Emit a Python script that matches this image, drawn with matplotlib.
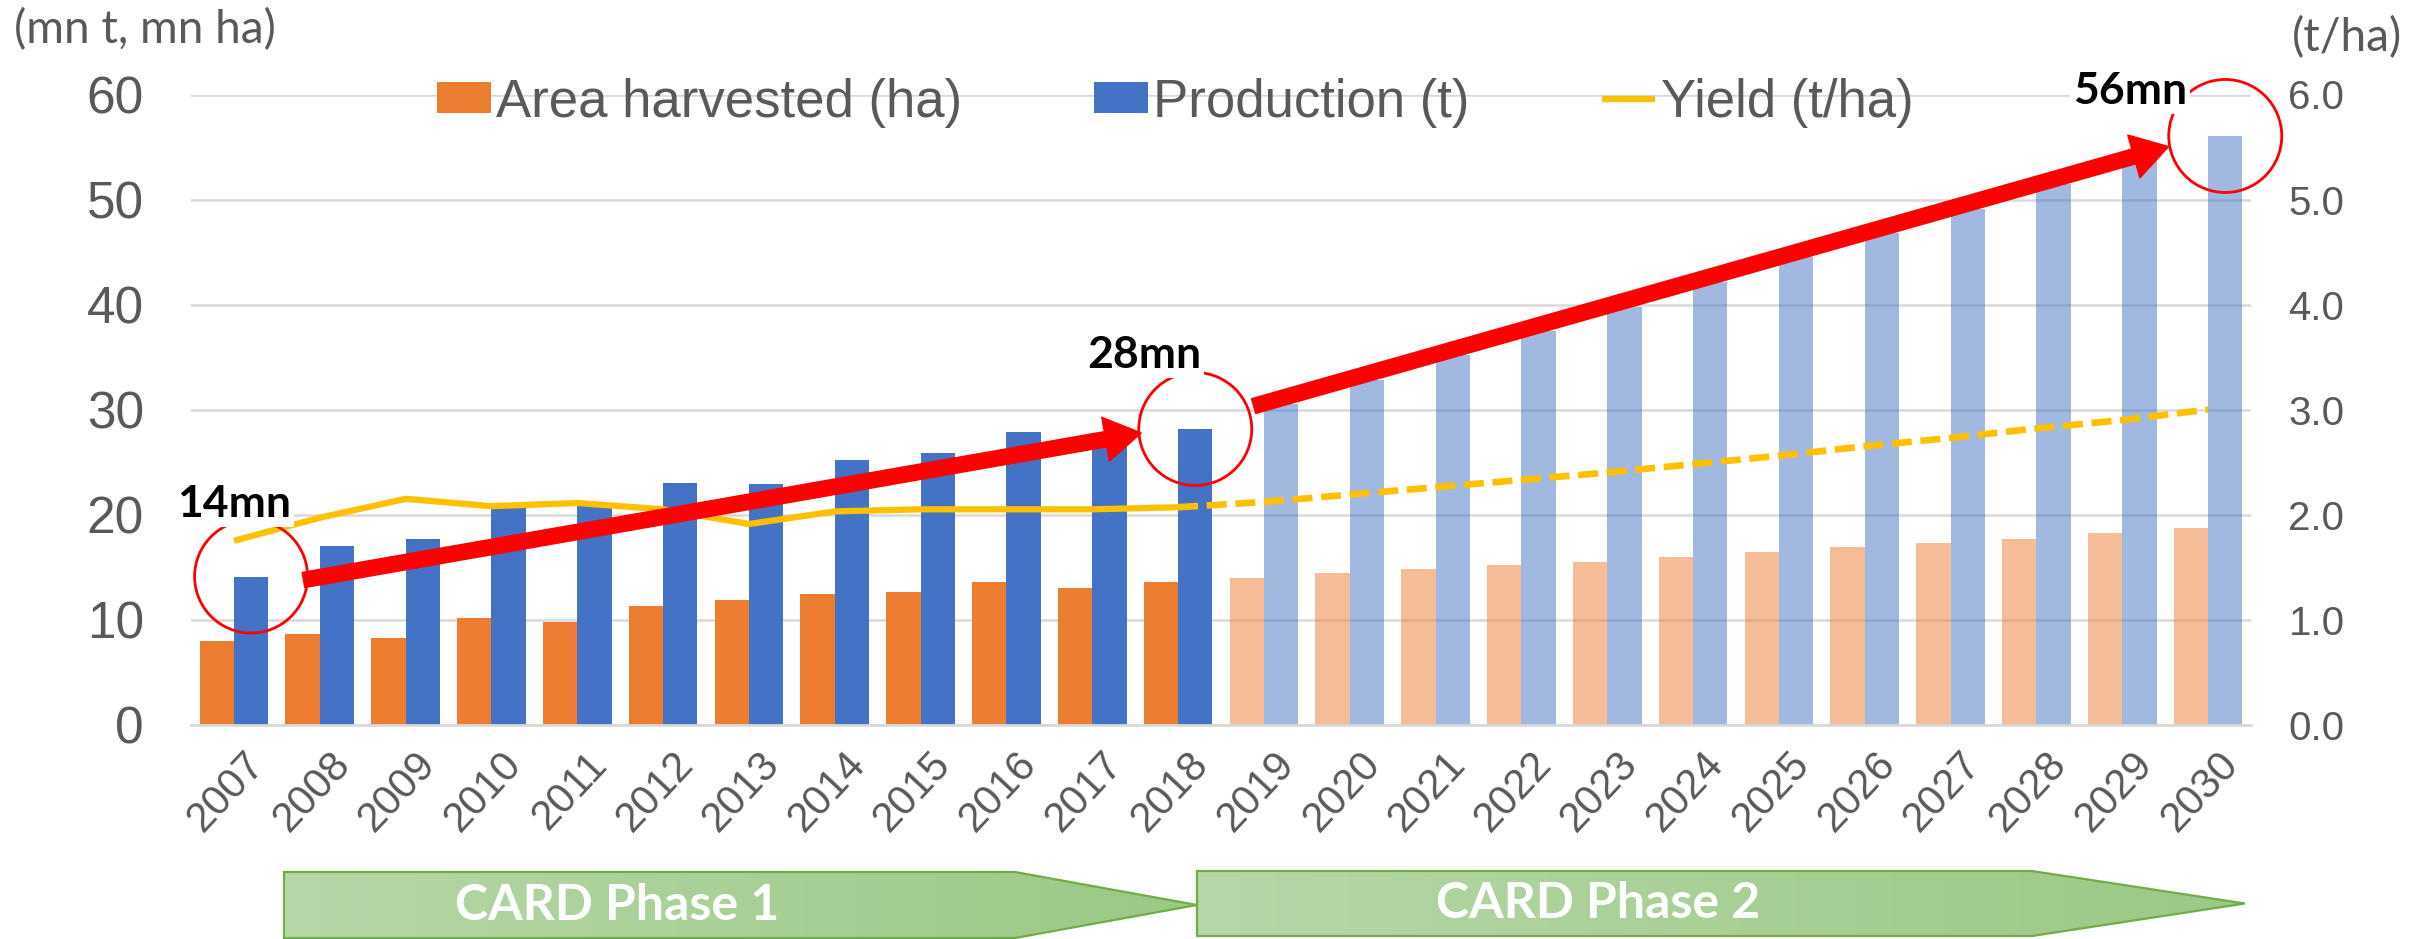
import numpy as np
import matplotlib
matplotlib.use("Agg")
import matplotlib.pyplot as plt
from matplotlib.patches import Ellipse, Polygon
from matplotlib.colors import LinearSegmentedColormap
from matplotlib.transforms import ScaledTranslation

plt.rcParams['font.family'] = ['Liberation Sans', 'DejaVu Sans']

# data (mn t, mn ha, t/ha)
years = list(range(2007, 2031))
area_actual = [8.0, 8.6, 8.2, 10.15, 9.8, 11.3, 11.85, 12.4, 12.6, 13.6, 13.0, 13.6]
area_proj = [14.0, 14.4, 14.8, 15.15, 15.5, 16.0, 16.4, 16.9, 17.25, 17.7, 18.2, 18.7]
prod_actual = [14.1, 17.0, 17.65, 21.1, 20.8, 23.0, 22.9, 25.2, 25.9, 27.9, 27.0, 28.15]
prod_proj = [30.5, 32.8, 35.2, 37.5, 39.8, 42.15, 44.5, 46.8, 49.1, 51.5, 53.8, 56.05]
yield_actual = [1.75, 1.97, 2.15, 2.08, 2.11, 2.05, 1.91, 2.03, 2.05, 2.05, 2.05, 2.07]
yield_proj = [2.12, 2.19, 2.26, 2.33, 2.40, 2.48, 2.56, 2.65, 2.73, 2.82, 2.90, 3.0]

highlight_idx = [0, 11, 23]
highlight_text = ["14mn", "28mn", "56mn"]

ORANGE = '#ED7D31'
BLUE = '#4472C4'
GOLD = '#FFC000'
GREY = '#595959'
GRID = '#D9D9D9'

W, H = 2433, 939
fig = plt.figure(figsize=(W / 100, H / 100), dpi=100)
ax = fig.add_axes([191 / W, 1 - 724.6 / H, 2060 / W, 630.1 / H])
ax2 = ax.twinx()

x = np.arange(len(years))
n_act = len(area_actual)
xa, xp = x[:n_act], x[n_act:]
bw = 0.4

b_area = ax.bar(xa - bw / 2, area_actual, bw, color=ORANGE, zorder=2)
ax.bar(xp - bw / 2, area_proj, bw, color=ORANGE, alpha=0.5, zorder=2)
b_prod = ax.bar(xa + bw / 2, prod_actual, bw, color=BLUE, zorder=2)
ax.bar(xp + bw / 2, prod_proj, bw, color=BLUE, alpha=0.5, zorder=2)

l_yield, = ax2.plot(xa, yield_actual, color=GOLD, lw=4.5, solid_capstyle='butt', zorder=3)
ax2.plot(np.r_[xa[-1], xp], [yield_actual[-1]] + yield_proj, color=GOLD, lw=4.8,
         ls=(0, (3.0, 1.3)), zorder=3)

ax.set_xlim(-0.5, len(years) - 0.5)
ax.set_ylim(0, 60)
ax2.set_ylim(0, 6)
ax.set_yticks(range(0, 61, 10))
ax2.set_yticks(np.arange(0, 6.1, 1))
ax2.set_yticklabels(['%.1f' % v for v in np.arange(0, 6.1, 1)])

ax.yaxis.grid(True, color=GRID, lw=1.8)
ax.set_axisbelow(True)
for a in (ax, ax2):
    for s in a.spines.values():
        s.set_visible(False)
ax.spines['bottom'].set_visible(True)
ax.spines['bottom'].set_color(GRID)
ax.spines['bottom'].set_linewidth(2)

ax.tick_params(axis='y', length=0, pad=34, labelsize=37, labelcolor=GREY)
ax2.tick_params(axis='y', length=0, pad=27, labelsize=29, labelcolor=GREY)
ax.set_xticks(x)
ax.set_xticklabels(years, rotation=47, ha='right', va='center', rotation_mode='anchor',
                   fontsize=30, color=GREY)
ax.tick_params(axis='x', length=0, pad=24)
for lab in ax.get_xticklabels():
    lab.set_transform(lab.get_transform() + ScaledTranslation(0.24, 0, fig.dpi_scale_trans))

# legend
ax2.legend([b_area, b_prod, l_yield], ['Area harvested (ha)', 'Production (t)', 'Yield (t/ha)'],
           ncol=3, frameon=False, loc='center left',
           bbox_to_anchor=(437 / W, 1 - 102.5 / H), bbox_transform=fig.transFigure,
           borderpad=0, borderaxespad=0, handlelength=1.02, handleheight=0.53,
           handletextpad=0.1, columnspacing=2.5, fontsize=38, labelcolor=GREY)

# highlight circles around production bars
p0 = ax.transData.transform((0, 0))
p1 = ax.transData.transform((1, 1))
sx, sy = p1[0] - p0[0], p1[1] - p0[1]
diam = 113
prod_all = prod_actual + prod_proj
for i in highlight_idx:
    e = Ellipse((i + bw / 2, prod_all[i]), diam / sx, diam / sy, fill=False, ec='red',
                lw=2.0, clip_on=False, zorder=6, transform=ax.transData)
    ax2.add_patch(e)

# red trend arrows
arrow_style = 'simple,head_length=26,head_width=32,tail_width=11'
for start, end in [((0.81, 13.77), (10.57, 27.77)), ((11.88, 30.33), (22.54, 55.04))]:
    ax2.annotate('', xy=end, xytext=start, xycoords=ax.transData, textcoords=ax.transData,
                 arrowprops=dict(arrowstyle=arrow_style, mutation_scale=1, color='red',
                                 shrinkA=0, shrinkB=0),
                 annotation_clip=False, zorder=5)

label_pos = [(0.0, 21.0), (10.61, 35.2), (22.09, 60.3)]
for (tx, ty), t in zip(label_pos, highlight_text):
    ax2.text(tx, ty, t, transform=ax.transData, ha='center', va='center', fontsize=32,
             fontweight='bold', family=['Lato', 'DejaVu Sans'], color='black', zorder=7,
             bbox=dict(facecolor='white', edgecolor='none', pad=2))

# axis unit labels
fig.text(14 / W, 1 - 8 / H, '(mn t, mn ha)', ha='left', va='top', fontsize=33, color=GREY,
         family=['Lato', 'DejaVu Sans'])
fig.text(2292 / W, 1 - 16 / H, '(t/ha)', ha='left', va='top', fontsize=33, color=GREY,
         family=['Lato', 'DejaVu Sans'])

# CARD phase banners
ov = fig.add_axes([0, 0, 1, 1], zorder=-1)
green_cm = LinearSegmentedColormap.from_list('g', ['#B6D7A8', '#9BC985'])
grad = np.linspace(0, 1, 256).reshape(1, -1)
banners = [("CARD Phase 1", 284, 1015, 1197, 872, 938, 617),
           ("CARD Phase 2", 1197, 2032, 2245, 871, 936, 1598)]
for text, x0, x1, xt, y0, y1, tx in banners:
    ym = (y0 + y1) / 2
    pts = [(x0, y0), (x1, y0), (xt, ym), (x1, y1), (x0, y1)]
    poly = Polygon(pts, closed=True, fc='none', ec='#70AD47', lw=1.6, zorder=3)
    ov.add_patch(poly)
    im = ov.imshow(grad, extent=[x0, xt, y1, y0], cmap=green_cm, aspect='auto', zorder=1)
    clip = Polygon(pts, closed=True, transform=ov.transData)
    im.set_clip_path(clip)
    ov.text(tx, ym, text, ha='center', va='center', color='white', fontsize=36,
            fontweight='bold', family=['Lato', 'DejaVu Sans'], zorder=4)
ov.set_xlim(0, W)
ov.set_ylim(H, 0)
ov.axis('off')

fig.savefig('out.png', dpi=100)
